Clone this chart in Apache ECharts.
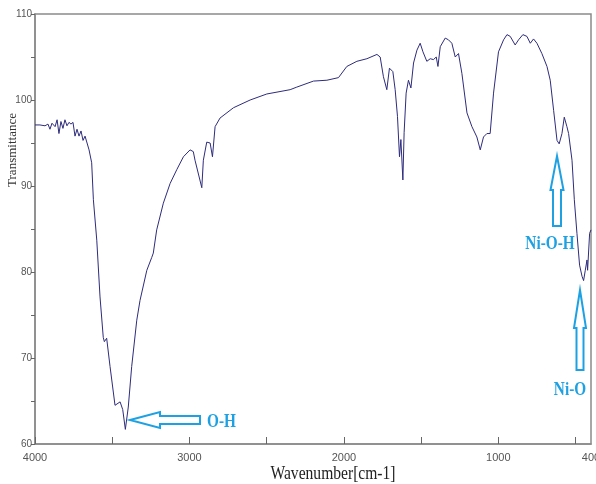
<!DOCTYPE html>
<html>
<head>
<meta charset="utf-8">
<title>FTIR</title>
<script src="https://cdn.jsdelivr.net/npm/echarts@6/dist/echarts.min.js"></script>
<style>
  html, body { margin: 0; padding: 0; background: #fff; }
  #chart { width: 596px; height: 484px; }
</style>
</head>
<body>
<div id="chart"></div>
<script>
// wavenumber (cm-1)
var wavenumbers = [
  4000, 3968, 3935, 3916, 3903, 3890, 3870, 3857, 3845, 3832, 3819, 3806, 3793, 3780, 3767, 3754,
  3741, 3728, 3715, 3702, 3689, 3676, 3663, 3650, 3633, 3622, 3600, 3579, 3558, 3551, 3536, 3514,
  3482, 3471, 3449, 3432, 3415, 3396, 3374, 3341, 3320, 3276, 3244, 3234, 3212, 3169, 3125, 3082,
  3039, 2996, 2975, 2964, 2953, 2920, 2910, 2888, 2866, 2851, 2834, 2802, 2715, 2607, 2499, 2348,
  2305, 2197, 2110, 2035, 1981, 1916, 1851, 1786, 1765, 1744, 1722, 1705, 1683, 1668, 1653, 1640,
  1631, 1618, 1610, 1597, 1582, 1566, 1549, 1527, 1506, 1488, 1463, 1441, 1420, 1402, 1391, 1376,
  1344, 1323, 1301, 1279, 1258, 1236, 1203, 1171, 1139, 1117, 1096, 1074, 1053, 1031, 999, 966,
  944, 923, 891, 869, 841, 815, 793, 772, 750, 718, 685, 664, 642, 620, 606, 588,
  573, 556, 545, 523, 508, 491, 474, 458, 448, 437, 426, 422, 409, 400
];
// transmittance (%)
var transmittance = [
  97.1, 97.1, 97.0, 97.2, 96.6, 97.3, 96.9, 97.7, 96.1, 97.5, 96.7, 97.7, 97.0, 97.4, 97.2, 97.4,
  95.8, 96.6, 95.8, 96.4, 95.3, 95.8, 95.0, 94.2, 92.7, 88.4, 83.7, 77.1, 72.4, 71.9, 72.3, 69.0,
  64.5, 64.4, 64.9, 64.0, 61.7, 64.3, 69.0, 74.4, 76.7, 80.2, 81.7, 82.2, 84.9, 88.0, 90.3, 91.9,
  93.4, 94.2, 94.0, 93.0, 92.9, 89.8, 93.0, 95.1, 95.0, 93.4, 96.9, 97.9, 99.1, 100.0, 100.7, 101.2,
  101.5, 102.2, 102.3, 102.6, 103.9, 104.5, 104.8, 105.3, 105.0, 102.7, 101.2, 103.7, 103.3, 101.2, 98.1, 93.4,
  95.4, 90.7, 96.2, 100.8, 102.3, 101.4, 104.3, 105.8, 106.6, 105.6, 104.5, 104.8, 104.7, 105.0, 103.9, 106.2,
  107.2, 107.0, 106.6, 105.0, 105.4, 103.1, 98.5, 96.9, 95.7, 94.2, 95.7, 96.1, 96.1, 100.8, 105.6, 107.0,
  107.6, 107.4, 106.4, 107.0, 107.6, 107.4, 106.6, 107.1, 106.6, 105.4, 103.9, 102.3, 98.8, 95.3, 94.9, 96.1,
  98.0, 96.9, 96.1, 93.0, 88.4, 84.5, 80.8, 79.5, 79.0, 80.2, 81.4, 80.2, 84.5, 84.9
];
var xTickLabels = [4000, 3000, 2000, 1000, 400];
var xTicks = [4000, 3500, 3000, 2500, 2000, 1500, 1000, 500];

var points = [];
wavenumbers.forEach(function(w, i){
    points.push([w, transmittance[i]]);
});

var cyan = '#1ea1e3';
var axisGray = '#8a8a8a';
var labelFont = '"Liberation Sans Narrow", "Arial Narrow", sans-serif';

function arrow(pts){
    return {
        type: 'polygon',
        shape: { points: pts },
        style: { fill: '#fff', stroke: cyan, lineWidth: 2 },
        z: 100
    };
}
function note(txt, x, y, align){
    return {
        type: 'text',
        x: x, y: y,
        scaleX: 0.85,
        style: {
            text: txt, fill: cyan, align: align, verticalAlign: 'middle',
            font: 'bold 18px "Liberation Serif", "Times New Roman", serif'
        },
        z: 100
    };
}

var chart = echarts.init(document.getElementById('chart'));
var option = {
    animation: false,
    backgroundColor: '#fff',
    grid: {
        left: 35, right: 5, top: 14, bottom: 40,
        outerBoundsMode: 'none',
        containLabel: false,
        show: true, borderColor: axisGray, borderWidth: 1.5
    },
    xAxis: {
        type: 'value',
        inverse: true,
        min: 400,
        max: 4000,
        axisLine: { show: true, onZero: false, lineStyle: { color: axisGray, width: 1.5 } },
        axisTick: { show: true, inside: true, length: 7, customValues: xTicks, lineStyle: { color: '#666' } },
        axisLabel: {
            customValues: xTickLabels, color: '#555', fontSize: 11,
            fontFamily: labelFont, margin: 8,
            formatter: function(v){ return String(v); }
        },
        splitLine: { show: false }
    },
    yAxis: {
        type: 'value',
        min: 60,
        max: 110,
        interval: 10,
        axisLine: { show: true, lineStyle: { color: axisGray, width: 1.5 } },
        axisTick: { show: true, length: 4, lineStyle: { color: '#666' } },
        minorTick: { show: true, splitNumber: 2, length: 4, lineStyle: { color: '#666' } },
        axisLabel: { color: '#555', fontSize: 10, fontFamily: labelFont, margin: 3 },
        splitLine: { show: false }
    },
    series: [{
        type: 'line',
        data: points,
        showSymbol: false,
        lineStyle: { color: '#2e2c7c', width: 1 },
        z: 5
    }],
    graphic: [
        {
            type: 'text',
            x: 13, y: 150,
            rotation: Math.PI / 2,
            style: {
                text: 'Transmittance', fill: '#333', align: 'center', verticalAlign: 'middle',
                font: '13px "Liberation Serif", "Times New Roman", serif'
            }
        },
        {
            type: 'text',
            x: 333, y: 474,
            scaleX: 0.82,
            style: {
                text: 'Wavenumber[cm-1]', fill: '#222', align: 'center', verticalAlign: 'middle',
                font: '19px "Liberation Serif", "Times New Roman", serif'
            }
        },
        arrow([[130, 420], [160, 412], [160, 416], [200, 416], [200, 424], [160, 424], [160, 428]]),
        arrow([[557, 156], [563.5, 190], [561, 190], [561, 226], [553, 226], [553, 190], [550.5, 190]]),
        arrow([[580, 290], [586, 328], [583.5, 328], [583.5, 370], [576.5, 370], [576.5, 328], [574, 328]]),
        note('O-H', 207, 422, 'left'),
        note('Ni-O-H', 550, 244, 'center'),
        note('Ni-O', 570, 390, 'center')
    ]
};
chart.setOption(option);
</script>
</body>
</html>
